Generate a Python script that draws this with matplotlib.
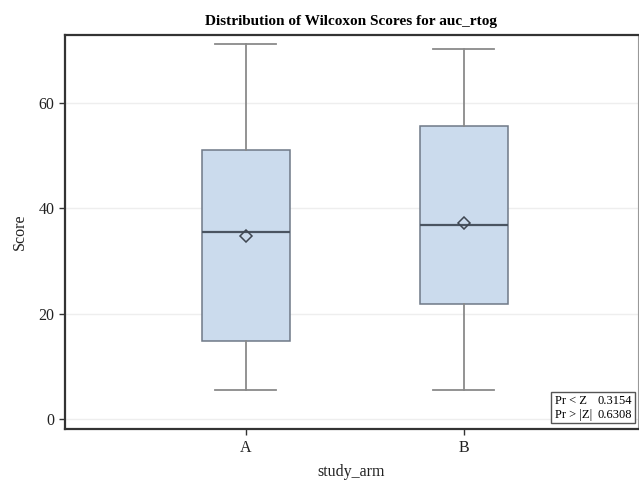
import matplotlib
matplotlib.use("Agg")
import matplotlib.pyplot as plt
from matplotlib.patches import Rectangle

# box statistics
arms = ["A", "B"]
whislo = [5.5, 5.5]
q1 = [14.8, 21.9]
med = [35.5, 36.7]
q3 = [51.0, 55.6]
whishi = [71.1, 70.1]
means = [34.7, 37.2]
yticks = [0, 20, 40, 60]
test_labels = ["Pr < Z", "Pr > |Z|"]
test_values = ["0.3154", "0.6308"]

plt.rcParams['font.family'] = ['Liberation Serif', 'DejaVu Serif']

fig = plt.figure(figsize=(6.39, 4.80), dpi=100)
ax = fig.add_axes([0.1017, 0.106, 0.8967, 0.821])

stats = []
for i, arm in enumerate(arms):
    stats.append(dict(label=arm, whislo=whislo[i], q1=q1[i], med=med[i],
                      q3=q3[i], whishi=whishi[i], mean=means[i], fliers=[]))

ax.bxp(stats, positions=range(len(arms)), widths=0.405, patch_artist=True,
       showmeans=True, showfliers=False,
       boxprops=dict(facecolor="#cbdbed", edgecolor="#6f7987", linewidth=1.1),
       medianprops=dict(color="#4a5461", linewidth=1.6),
       whiskerprops=dict(color="#8a8a8a", linewidth=1.3),
       capprops=dict(color="#8a8a8a", linewidth=1.3),
       meanprops=dict(marker="D", markerfacecolor="none", markeredgecolor="#3f4752",
                      markersize=6.5, markeredgewidth=1.1),
       capwidths=0.28)

ax.set_xlim(-0.83, 1.80)
ax.set_ylim(-1.9, 72.8)
ax.set_yticks(yticks)
ax.set_xticks(range(len(arms)))
ax.set_xticklabels(arms)
ax.yaxis.grid(True, color="#eeeeee", linewidth=1.0)
ax.set_axisbelow(True)

for s in ax.spines.values():
    s.set_color("#333333")
    s.set_linewidth(1.6)
ax.spines["right"].set_linewidth(0.8)
ax.spines["right"].set_color("#999999")
ax.tick_params(axis="both", direction="out", length=4, width=1, color="#333333",
               labelsize=11.5, labelcolor="#222222")

ax.set_xlabel("study_arm", fontsize=11.5, color="#222222", labelpad=6)
ax.set_ylabel("Score", fontsize=11.5, color="#222222", labelpad=8)
ax.set_title("Distribution of Wilcoxon Scores for auc_rtog", fontsize=11,
             fontweight="bold", pad=7)

# test results inset
ax.add_patch(Rectangle((0.848, 0.0145), 0.146, 0.079, transform=ax.transAxes,
                       facecolor="white", edgecolor="#555555", linewidth=1.0, zorder=5))
for j in range(len(test_labels)):
    yy = 0.072 - j * 0.036
    ax.text(0.855, yy, test_labels[j], transform=ax.transAxes, fontsize=9,
            va="center", ha="left", zorder=6)
    ax.text(0.990, yy, test_values[j], transform=ax.transAxes, fontsize=9,
            va="center", ha="right", zorder=6)

fig.savefig("out.png", dpi=100)
